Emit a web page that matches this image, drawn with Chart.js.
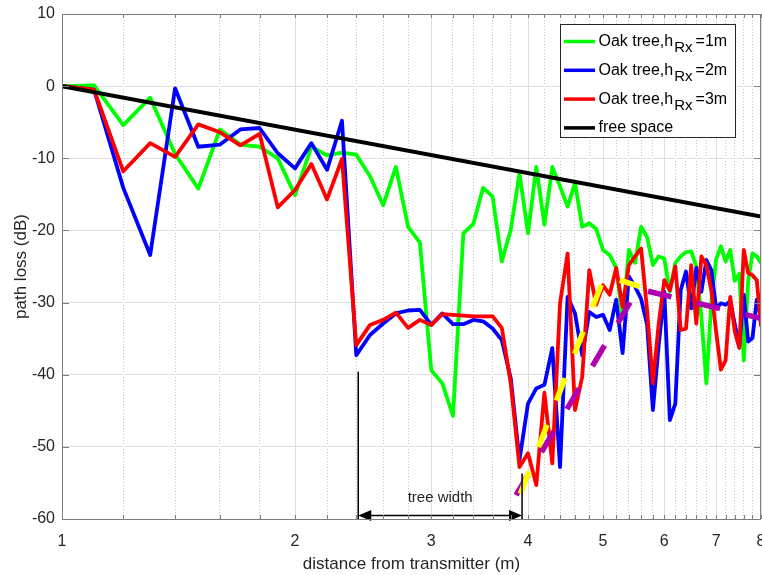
<!DOCTYPE html>
<html>
<head>
<meta charset="utf-8">
<title>Path loss behind an oak tree</title>
<script src="https://cdn.jsdelivr.net/npm/chart.js@4.4.0/dist/chart.umd.min.js"></script>
<style>
    html, body { margin: 0; padding: 0; background: #fff; }
    #wrap { width: 762px; height: 575px; }
</style>
</head>
<body>
<div id="wrap"><canvas id="lossChart" width="762" height="575"></canvas></div>
<script>
// distance from transmitter (m)
const distance = [
    1.0, 1.1, 1.2, 1.3, 1.4, 1.5, 1.6, 1.7, 1.8, 1.9,
    2.0, 2.1, 2.2, 2.3, 2.4, 2.5, 2.6, 2.7, 2.8, 2.9,
    3.0, 3.1, 3.2, 3.3, 3.4, 3.5, 3.6, 3.7, 3.8, 3.9,
    4.0, 4.1, 4.2, 4.3, 4.4, 4.5, 4.6, 4.7, 4.8, 4.9,
    5.0, 5.1, 5.2, 5.3, 5.4, 5.5, 5.6, 5.7, 5.8, 5.9,
    6.0, 6.1, 6.2, 6.3, 6.4, 6.5, 6.6, 6.7, 6.8, 6.9,
    7.0, 7.1, 7.2, 7.3, 7.4, 7.5, 7.6, 7.7, 7.8, 7.9,
    8.0
];

// path loss (dB), receiver height 1 m / 2 m / 3 m
const oak1m = [
    0, 0.1, -5.4, -1.6, -9.4, -14.2, -6.0, -8.1, -8.4, -10.0,
    -15.1, -8.4, -9.6, -9.2, -9.5, -12.5, -16.5, -11.2, -19.5, -21.7,
    -39.4, -41.2, -45.7, -20.4, -19.1, -14.1, -15.3, -24.3, -19.9, -12.1,
    -20.4, -11.2, -19.2, -11.2, -13.9, -16.7, -13.4, -19.5, -19.0, -19.8,
    -22.7, -23.4, -25.2, -32.2, -22.7, -24.5, -19.5, -20.9, -24.8, -23.6,
    -23.9, -28.5, -24.5, -23.6, -23.0, -22.9, -25.0, -32.0, -41.2, -30.0,
    -24.0, -22.2, -24.3, -22.7, -27.0, -26.0, -38.0, -27.0, -23.2, -23.6,
    -24.5
];
const oak2m = [
    0, -0.5, -14.1, -23.4, -0.3, -8.4, -8.1, -6.0, -5.8, -9.3,
    -11.4, -7.9, -11.6, -4.8, -37.3, -34.5, -32.9, -31.5, -31.1, -31.0,
    -33.1, -31.5, -33.0, -33.0, -32.4, -32.6, -33.6, -35.2, -40.5, -51.8,
    -44.0, -41.9, -41.4, -36.3, -52.8, -29.2, -31.5, -37.3, -31.3, -32.0,
    -31.7, -33.8, -29.6, -37.0, -26.4, -27.8, -29.5, -33.0, -44.9, -36.0,
    -28.5, -46.3, -44.0, -28.3, -25.7, -30.8, -25.2, -28.5, -24.1, -25.5,
    -30.8, -30.1, -30.3, -29.8, -33.0, -36.1, -28.9, -35.4, -34.9, -29.6,
    -32.0
];
const oak3m = [
    0, -0.5, -11.8, -7.9, -9.8, -5.3, -6.4, -8.2, -6.6, -16.8,
    -14.4, -10.8, -15.7, -10.1, -35.9, -33.1, -32.4, -31.4, -33.5, -32.4,
    -33.1, -31.6, -31.7, -31.8, -31.9, -31.9, -31.9, -33.5, -41.2, -52.8,
    -50.9, -55.3, -42.5, -52.3, -30.1, -23.2, -44.9, -40.3, -25.5, -30.3,
    -27.6, -28.9, -25.2, -30.6, -24.8, -23.6, -22.5, -31.0, -41.2, -33.0,
    -26.9, -28.3, -25.0, -33.8, -33.6, -24.8, -32.9, -23.6, -24.8, -28.3,
    -34.0, -39.3, -38.0, -29.2, -34.0, -36.3, -22.7, -25.9, -26.2, -26.9,
    -33.3
];

// free space reference
const freeSpaceDist = [1, 8];
const freeSpaceLoss = [0, -18.06];

// dashed trend lines behind the tree
const yellowDist = [3.91, 5.03, 5.58];
const yellowLoss = [-56.5, -26.2, -27.8];
const purpleDist = [3.86, 5.55, 8.0];
const purpleLoss = [-56.7, -28.1, -32.2];

// axis ticks
const xTicks = [
    1, 1.2, 1.4, 1.6, 1.8, 2, 2.2, 2.4, 2.6, 2.8, 3, 3.2, 3.4, 3.6, 3.8,
    4, 4.2, 4.4, 4.6, 4.8, 5, 5.2, 5.4, 5.6, 5.8, 6, 6.2, 6.4, 6.6, 6.8,
    7, 7.2, 7.4, 7.6, 7.8, 8
];
const xTickLabels = [1, 2, 3, 4, 5, 6, 7, 8];
const yTicks = [10, 0, -10, -20, -30, -40, -50, -60];

// "tree width" marker
const treeStart = 2.414;
const treeEnd = 3.93;
const treeStartTop = -39.6;
const treeEndTop = -53.7;
const treeArrowLevel = -59.5;

// legend text: main, subscript, tail
const legendParts = [
    ['Oak tree,h', 'Rx', '=1m'],
    ['Oak tree,h', 'Rx', '=2m'],
    ['Oak tree,h', 'Rx', '=3m'],
    ['free space', '', '']
];
const legendColors = ['#00ff00', '#0000ff', '#ff0000', '#000000'];

const FONT = "'Liberation Sans', Arial, sans-serif";
const AXIS_GREY = '#7f7f7f';

function toPoints(xs, ys) {
    return xs.map((x, i) => ({ x: x, y: ys[i] }));
}

function drawFrame(chart) {
    const ctx = chart.ctx;
    const area = chart.chartArea;
    const xs = chart.scales.x;
    const ys = chart.scales.y;

    ctx.save();
    ctx.strokeStyle = AXIS_GREY;
    ctx.lineWidth = 1;
    ctx.strokeRect(area.left + 0.5, area.top + 0.5, area.right - area.left - 1, area.bottom - area.top);

    // inward tick marks
    ctx.beginPath();
    xTicks.forEach(v => {
        const px = Math.round(xs.getPixelForValue(v)) + 0.5;
        ctx.moveTo(px, area.top);
        ctx.lineTo(px, area.top + 4);
        ctx.moveTo(px, area.bottom);
        ctx.lineTo(px, area.bottom - 4);
    });
    yTicks.forEach(v => {
        const py = Math.round(ys.getPixelForValue(v)) + 0.5;
        ctx.moveTo(area.left, py);
        ctx.lineTo(area.left + 7, py);
        ctx.moveTo(area.right, py);
        ctx.lineTo(area.right - 7, py);
    });
    ctx.stroke();
    ctx.restore();
}

function drawTreeWidth(chart) {
    const ctx = chart.ctx;
    const area = chart.chartArea;
    const xs = chart.scales.x;
    const ys = chart.scales.y;
    const xa = xs.getPixelForValue(treeStart);
    const xb = xs.getPixelForValue(treeEnd);
    const ay = ys.getPixelForValue(treeArrowLevel);

    ctx.save();
    ctx.strokeStyle = '#000';
    ctx.fillStyle = '#000';
    ctx.lineWidth = 1.5;
    ctx.beginPath();
    ctx.moveTo(xa, ys.getPixelForValue(treeStartTop));
    ctx.lineTo(xa, area.bottom);
    ctx.moveTo(xb, ys.getPixelForValue(treeEndTop));
    ctx.lineTo(xb, area.bottom);
    ctx.moveTo(xa + 6, ay);
    ctx.lineTo(xb - 6, ay);
    ctx.stroke();

    // arrow heads
    ctx.beginPath();
    ctx.moveTo(xa, ay);
    ctx.lineTo(xa + 13, ay - 5.5);
    ctx.lineTo(xa + 13, ay + 5.5);
    ctx.closePath();
    ctx.moveTo(xb, ay);
    ctx.lineTo(xb - 13, ay - 5.5);
    ctx.lineTo(xb - 13, ay + 5.5);
    ctx.closePath();
    ctx.fill();

    ctx.font = '15px ' + FONT;
    ctx.fillStyle = '#262626';
    ctx.textAlign = 'center';
    ctx.textBaseline = 'middle';
    ctx.fillText('tree width', (xa + xb) / 2, ay - 17.5);
    ctx.restore();
}

function drawLegend(chart) {
    const ctx = chart.ctx;
    const area = chart.chartArea;
    const left = area.right - 201;
    const top = area.top + 10;
    const width = 175;
    const height = 113;

    ctx.save();
    ctx.fillStyle = '#fff';
    ctx.fillRect(left, top, width, height);
    ctx.strokeStyle = '#262626';
    ctx.lineWidth = 1;
    ctx.strokeRect(left + 0.5, top + 0.5, width, height);

    legendParts.forEach((parts, i) => {
        const y = top + 17.5 + i * 28.8;
        ctx.strokeStyle = legendColors[i];
        ctx.lineWidth = 3.5;
        ctx.beginPath();
        ctx.moveTo(left + 4, y);
        ctx.lineTo(left + 35, y);
        ctx.stroke();

        let x = left + 38.5;
        ctx.fillStyle = '#000';
        ctx.textBaseline = 'middle';
        ctx.textAlign = 'left';
        ctx.font = '16px ' + FONT;
        ctx.fillText(parts[0], x, y);
        x += ctx.measureText(parts[0]).width + 1;
        if (parts[1]) {
            ctx.font = '15px ' + FONT;
            ctx.fillText(parts[1], x, y + 6.5);
            x += ctx.measureText(parts[1]).width + 3;
            ctx.font = '16px ' + FONT;
            ctx.fillText(parts[2], x, y);
        }
    });
    ctx.restore();
}

const overlayPlugin = {
    id: 'overlay',
    afterDatasetsDraw(chart) {
        drawTreeWidth(chart);
        drawFrame(chart);
        drawLegend(chart);
    }
};

function isMajorTick(ctx) {
    return ctx.tick && Number.isInteger(ctx.tick.value);
}

const ctx = document.getElementById('lossChart').getContext('2d');

new Chart(ctx, {
    type: 'line',
    data: {
        datasets: [
            {
                label: 'yellow trend',
                data: toPoints(yellowDist, yellowLoss),
                borderColor: '#ffff00',
                borderWidth: 5.5,
                borderDash: [24, 26],
                order: 0
            },
            {
                label: 'purple trend',
                data: toPoints(purpleDist, purpleLoss),
                borderColor: '#b000b0',
                borderWidth: 5.5,
                borderDash: [24, 26],
                order: 1
            },
            {
                label: 'free space',
                data: toPoints(freeSpaceDist, freeSpaceLoss),
                borderColor: '#000000',
                borderWidth: 4,
                order: 2
            },
            {
                label: 'Oak tree,hRx=3m',
                data: toPoints(distance, oak3m),
                borderColor: '#ff0000',
                borderWidth: 3.8,
                order: 3
            },
            {
                label: 'Oak tree,hRx=2m',
                data: toPoints(distance, oak2m),
                borderColor: '#0000ff',
                borderWidth: 3.8,
                order: 4
            },
            {
                label: 'Oak tree,hRx=1m',
                data: toPoints(distance, oak1m),
                borderColor: '#00ff00',
                borderWidth: 3.8,
                order: 5
            }
        ]
    },
    options: {
        responsive: false,
        devicePixelRatio: 1,
        animation: false,
        layout: { padding: { top: 14, right: 1, left: 0, bottom: 0 } },
        elements: {
            point: { radius: 0, hoverRadius: 0 },
            line: { tension: 0, borderJoinStyle: 'round', fill: false }
        },
        plugins: {
            legend: { display: false },
            tooltip: { enabled: false }
        },
        scales: {
            x: {
                type: 'logarithmic',
                min: 1,
                max: 8,
                afterBuildTicks: (scale) => {
                    scale.ticks = xTicks.map(v => ({ value: v }));
                },
                afterFit: (scale) => {
                    scale.height = 56;
                    scale.paddingLeft = 0;
                    scale.paddingRight = 0;
                },
                ticks: {
                    autoSkip: false,
                    maxRotation: 0,
                    padding: 13,
                    color: '#262626',
                    font: { family: FONT, size: 16 },
                    callback: (value) => xTickLabels.includes(value) ? String(value) : ''
                },
                grid: {
                    drawTicks: false,
                    color: (c) => isMajorTick(c) ? '#dedede' : '#c4c4c4',
                    lineWidth: 1
                },
                border: {
                    display: false,
                    dash: (c) => (c.tick && !Number.isInteger(c.tick.value)) ? [1, 2] : []
                },
                title: {
                    display: true,
                    text: 'distance from transmitter (m)',
                    color: '#262626',
                    font: { family: FONT, size: 17 },
                    padding: { top: 0, bottom: 0 }
                }
            },
            y: {
                min: -60,
                max: 10,
                afterFit: (scale) => {
                    scale.width = 62;
                    scale.paddingTop = 0;
                    scale.paddingBottom = 0;
                },
                ticks: {
                    stepSize: 10,
                    padding: 7,
                    color: '#262626',
                    font: { family: FONT, size: 16 }
                },
                grid: {
                    drawTicks: false,
                    color: '#dedede',
                    lineWidth: 1
                },
                border: { display: false },
                title: {
                    display: true,
                    text: 'path loss (dB)',
                    color: '#262626',
                    font: { family: FONT, size: 17 },
                    padding: { top: 11, bottom: 0 }
                }
            }
        }
    },
    plugins: [overlayPlugin]
});
</script>
</body>
</html>
